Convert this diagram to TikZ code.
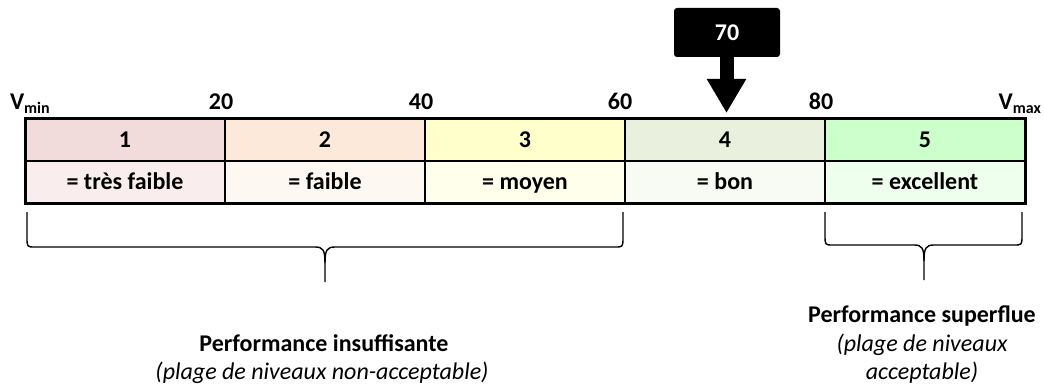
\documentclass[tikz,border=0pt]{standalone}
\usepackage{fontspec}
\setmainfont{Carlito}
\usetikzlibrary{arrows.meta}
\definecolor{cAa}{RGB}{242,220,219}
\definecolor{cAb}{RGB}{250,237,237}
\definecolor{cBa}{RGB}{253,233,217}
\definecolor{cBb}{RGB}{254,248,243}
\definecolor{cCa}{RGB}{255,255,204}
\definecolor{cCb}{RGB}{255,255,235}
\definecolor{cDa}{RGB}{234,240,222}
\definecolor{cDb}{RGB}{248,250,244}
\definecolor{cEa}{RGB}{204,255,204}
\definecolor{cEb}{RGB}{238,255,238}
\newcommand{\subtxt}[1]{\raisebox{-0.3ex}{\fontsize{16}{16}\selectfont #1}}
\begin{document}
\begin{tikzpicture}[x=1pt,y=-1pt,
  every node/.style={inner sep=0pt, outer sep=0pt},
  bfont/.style={font=\fontsize{24}{28}\selectfont\bfseries},
  ifont/.style={font=\fontsize{24}{28}\selectfont\itshape},
  cell/.style={bfont, draw=black, line width=1.5pt, minimum width=200pt, minimum height=42pt, text height=15pt, text depth=0pt},
  tick/.style={bfont, anchor=base},
  brace/.style={draw=black, line width=1.4pt, line join=round}]
\useasboundingbox (0,0) rectangle (1044,385);
% table
\node[cell, fill=cAa] (t1) at (125,140) {1};
\node[cell, fill=cBa] (t2) at (325,140) {2};
\node[cell, fill=cCa] (t3) at (525,140) {3};
\node[cell, fill=cDa] (t4) at (725,140) {4};
\node[cell, fill=cEa] (t5) at (925,140) {5};
\node[cell, fill=cAb] (b1) at (125,182) {= très faible};
\node[cell, fill=cBb] (b2) at (325,182) {= faible};
\node[cell, fill=cCb] (b3) at (525,182) {= moyen};
\node[cell, fill=cDb] (b4) at (725,182) {= bon};
\node[cell, fill=cEb] (b5) at (925,182) {= excellent};
\draw[line width=3pt] (t1.north west) rectangle (b5.south east);
% scale labels
\node[tick, anchor=base west] (vmin) at (10,110) {V\subtxt{min}};
\node[tick] (n20) at (221,110) {20};
\node[tick] (n40) at (421,110) {40};
\node[tick] (n60) at (620,110) {60};
\node[tick] (n80) at (821,110) {80};
\node[tick, anchor=base east] (vmax) at (1041,110) {V\subtxt{max}};
% value marker
\node[bfont, fill=black, text=white, rounded corners=3pt, minimum width=106pt, minimum height=49pt] (v70) at (727,32.5) {70};
\coordinate (tip) at (726.5,113);
\draw[line width=14pt, -{Triangle[length=34pt,width=37pt]}] ([xshift=-0.5pt]v70.south) -- (tip);
% braces
\path[brace] (27,212) -- (27,237) .. controls (27,247) and (27,247) .. (35,247)
  -- (315,247) .. controls (323,247) and (325,250) .. (325,263) -- (325,282);
\path[brace] (325,263) .. controls (325,250) and (327,247) .. (335,247)
  -- (615,247) .. controls (623,247) and (623,247) .. (623,237) -- (623,212);
\path[brace] (825,212) -- (825,235) .. controls (825,245) and (825,245) .. (833,245)
  -- (914,245) .. controls (922,245) and (924,248) .. (924,261) -- (924,280);
\path[brace] (924,261) .. controls (924,248) and (926,245) .. (934,245)
  -- (1014,245) .. controls (1022,245) and (1022,245) .. (1022,235) -- (1022,212);
% captions
\node[bfont, anchor=base] (ins) at (324,351) {Performance insuffisante};
\node[ifont, anchor=base] (insb) at (322,379) {(plage de niveaux non-acceptable)};
\node[bfont, anchor=base] (sup) at (922,322) {Performance superflue};
\node[ifont, anchor=base] (supb) at (922,351) {(plage de niveaux};
\node[ifont, anchor=base] (supc) at (922,379) {acceptable)};
\end{tikzpicture}
\end{document}
